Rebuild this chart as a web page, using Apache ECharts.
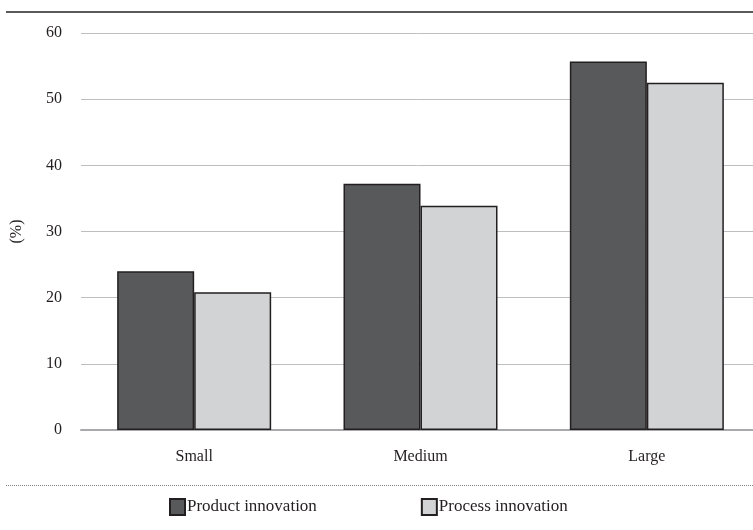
<!DOCTYPE html>
<html>
<head>
<meta charset="utf-8">
<script src="https://cdn.jsdelivr.net/npm/echarts@6/dist/echarts.min.js"></script>
<style>
  html, body { margin: 0; padding: 0; background: #fff; }
  #chart { width: 753px; height: 530px; }
</style>
</head>
<body>
<div id="chart"></div>
<script>
// Share of firms reporting innovation, by firm size (%)
const categories = ['Small', 'Medium', 'Large'];
const productInnovation = [24.0, 37.2, 55.7];
const processInnovation = [20.8, 33.9, 52.5];
const yTicks = { min: 0, max: 60, interval: 10 };

const FONT = '"Liberation Serif", "DejaVu Serif", serif';
const TEXT = '#231f20';

const chart = echarts.init(document.getElementById('chart'), null, { renderer: 'canvas' });

chart.setOption({
  backgroundColor: '#ffffff',
  animation: false,
  grid: { left: 81, right: -7, top: 33, bottom: 100, containLabel: false, outerBoundsMode: 'none' },
  graphic: [
    {
      type: 'line',
      shape: { x1: 6, y1: 12, x2: 753, y2: 12 },
      style: { stroke: '#58595b', lineWidth: 2 }
    },
    {
      type: 'line',
      shape: { x1: 6, y1: 485.5, x2: 753, y2: 485.5 },
      style: { stroke: '#808285', lineWidth: 1, lineDash: [1, 1] }
    }
  ],
  legend: {
    left: 164,
    top: 493,
    itemWidth: 15,
    itemHeight: 16,
    itemGap: 104,
    icon: 'rect',
    textStyle: { fontFamily: FONT, fontSize: 17, color: TEXT, padding: [0, 0, 0, -3] },
    data: ['Product innovation', 'Process innovation']
  },
  xAxis: {
    type: 'category',
    data: categories,
    axisLine: { lineStyle: { color: '#a7a9ac', width: 2 } },
    axisTick: { show: false },
    axisLabel: { fontFamily: FONT, fontSize: 16, color: TEXT, margin: 19 },
    splitLine: { show: false }
  },
  yAxis: {
    type: 'value',
    min: yTicks.min,
    max: yTicks.max,
    interval: yTicks.interval,
    name: '(%)',
    nameLocation: 'middle',
    nameRotate: 90,
    nameGap: 56,
    nameTextStyle: { fontFamily: FONT, fontSize: 16, color: TEXT },
    axisLine: { show: false },
    axisTick: { show: false },
    axisLabel: { fontFamily: FONT, fontSize: 16, color: TEXT, margin: 19 },
    splitLine: { lineStyle: { color: '#bcbec0', width: 1 } }
  },
  series: [
    {
      name: 'Product innovation',
      type: 'bar',
      data: productInnovation,
      barWidth: 77,
      barGap: '0%',
      itemStyle: { color: '#58595b', borderColor: TEXT, borderWidth: 1.5 }
    },
    {
      name: 'Process innovation',
      type: 'bar',
      data: processInnovation,
      barWidth: 77,
      barGap: '0%',
      itemStyle: { color: '#d1d3d4', borderColor: TEXT, borderWidth: 1.5 }
    }
  ]
});
</script>
</body>
</html>
